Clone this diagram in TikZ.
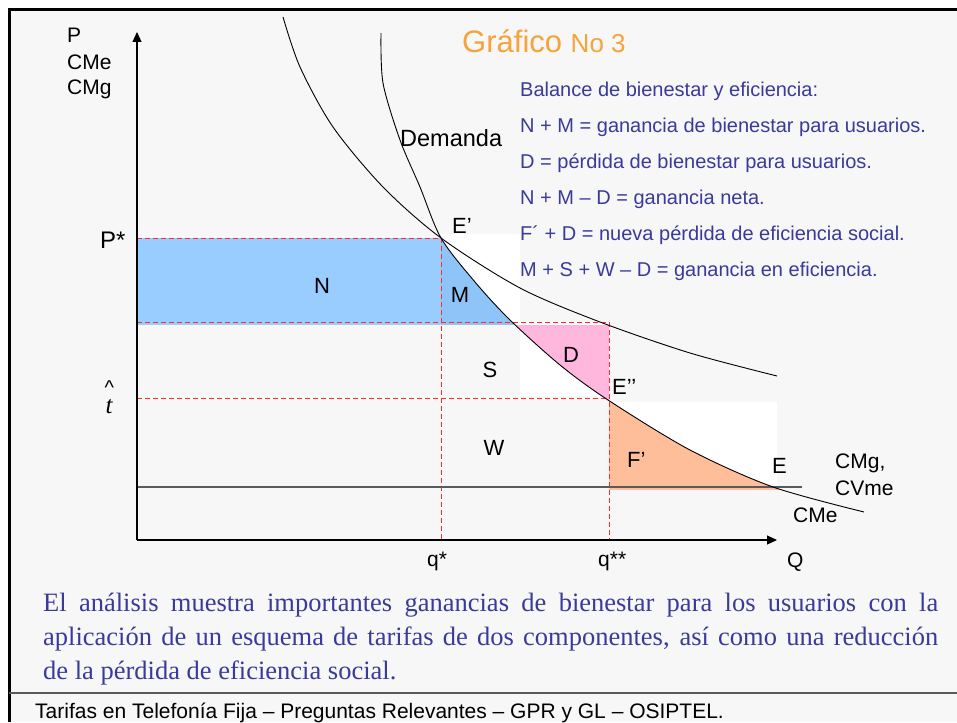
\documentclass[tikz,border=0pt]{standalone}
\usepackage{fontspec}
\setmainfont{Liberation Sans}
\newfontfamily\seriffont{Liberation Serif}
\usetikzlibrary{arrows.meta}
\definecolor{bg}{HTML}{F7F7F7}
\definecolor{nblue}{HTML}{99CCFF}
\definecolor{mblue}{HTML}{8EC4F8}
\definecolor{dpink}{HTML}{FFB7DE}
\definecolor{forange}{HTML}{FFBE9A}
\definecolor{titleorange}{HTML}{F6A33C}
\definecolor{navy}{HTML}{3A3A9A}
\definecolor{dashred}{HTML}{FF2A2A}
\definecolor{cmggray}{HTML}{5A5A5A}
\tikzset{
  lbl/.style={font=\fontsize{21}{25}\selectfont, inner sep=0pt, text=black},
  lst/.style={font=\fontsize{20}{24}\selectfont, text=navy, inner sep=0pt, anchor=base west},
  para/.style={font=\seriffont\fontsize{26.5}{30}\selectfont, text=navy, inner sep=0pt, anchor=base west},
  guide/.style={dashred, dash pattern=on 5pt off 3pt, line width=1pt},
  curve/.style={black, line width=0.9pt},
  axis/.style={black, line width=1.1pt, -{Triangle[length=10pt,width=9pt]}},
}
\begin{document}
\begin{tikzpicture}[x=1pt,y=-1pt]
\useasboundingbox (0,0) rectangle (957,722);
\fill[white] (0,0) rectangle (957,722);
\fill[bg] (9,10) rectangle (957,722);
% white patches
\fill[white] (441,234) rectangle (520,325);
\fill[white] (520,323) rectangle (609,396);
\fill[white] (609,402) rectangle (777,490);
% N
\fill[nblue] (137,238) rectangle (441,325);
% M and F'
\begin{scope}
\clip plot[smooth] coordinates {(381,33) (383,83) (400,140) (420,187) (441,238) (475,282) (510,320) (560,365) (608,400) (690,450) (773,487) (864,512)} -- (864,722) -- (0,722) -- (0,33) -- cycle;
\fill[mblue] (441,238) rectangle (540,325);
\fill[forange] (609,400) rectangle (800,490);
\end{scope}
% D
\begin{scope}
\clip plot[smooth] coordinates {(381,33) (383,83) (400,140) (420,187) (441,238) (475,282) (510,320) (560,365) (608,400) (690,450) (773,487) (864,512)} -- (957,512) -- (957,0) -- (381,0) -- cycle;
\fill[dpink] (500,325) rectangle (609,400);
\end{scope}
% coordinates
\coordinate (O) at (137,540);
\coordinate (Ytop) at (137,32);
\coordinate (Xend) at (777,540);
\coordinate (Pstar) at (137,238);
\coordinate (Ep) at (441,238);
\coordinate (qs) at (441,540);
\coordinate (h1a) at (137,322);
\coordinate (h1b) at (609,322);
\coordinate (tha) at (137,398);
\coordinate (thb) at (609,398);
\coordinate (qss) at (609,540);
\coordinate (cmga) at (137,487);
\coordinate (cmgb) at (802,487);
% guides
\draw[guide] (Pstar) -- (Ep);
\draw[guide] (Ep) -- (qs);
\draw[guide] (h1a) -- (h1b);
\draw[guide] (tha) -- (thb);
\draw[guide] (h1b) -- (qss);
% CMg line
\draw[cmggray, line width=1.5pt] (cmga) -- (cmgb);
% curves
\draw[curve] plot[smooth] coordinates {(283,17) (300,67) (333,127) (383,187) (441,238) (520,288) (600,322) (690,353) (777,376)};
\draw[curve] plot[smooth] coordinates {(381,33) (383,83) (400,140) (420,187) (441,238) (475,282) (510,320) (560,365) (608,400) (690,450) (773,487) (864,512)};
% axes
\draw[axis] (O) -- (Ytop);
\draw[axis] (O) -- (Xend);
% frame
\draw[black, line width=3pt] (9,722) -- (9,10) -- (957,10);
\draw[cmggray, line width=1.5pt] (9,693) -- (957,693);
% axis labels
\node[lbl, anchor=base west] (lP) at (67,43) {P};
\node[lbl, anchor=base west] (lCMe) at (67,70) {CMe};
\node[lbl, anchor=base west] (lCMg) at (67,95) {CMg};
\node[lbl, anchor=base west, font=\fontsize{24}{28}\selectfont] (lPs) at (100,248) {P*};
\node[lbl, anchor=base] (lthat) at (109,413) {\rlap{\hspace{-0.8pt}\raisebox{19pt}{\fontsize{20}{20}\selectfont\textasciicircum}}{\seriffont\itshape\fontsize{25}{28}\selectfont t}};
\node[lbl, anchor=base west] (lqs) at (427,566) {q*};
\node[lbl, anchor=base west] (lqss) at (598,566) {q**};
\node[lbl, anchor=base west] (lQ) at (787,567) {Q};
% region labels
\node[lbl, anchor=base, font=\fontsize{22}{26}\selectfont] (lN) at (322,293) {N};
\node[lbl, anchor=base, font=\fontsize{22}{26}\selectfont] (lM) at (460,302) {M};
\node[lbl, anchor=base, font=\fontsize{22}{26}\selectfont] (lS) at (490,377) {S};
\node[lbl, anchor=base, font=\fontsize{22}{26}\selectfont] (lD) at (571,362) {D};
\node[lbl, anchor=base, font=\fontsize{22}{26}\selectfont] (lW) at (494,455) {W};
\node[lbl, anchor=base west, font=\fontsize{22}{26}\selectfont] (lF) at (627,467) {F’};
\node[lbl, anchor=base west, font=\fontsize{22}{26}\selectfont] (lEp) at (452,233) {E’};
\node[lbl, anchor=base west, font=\fontsize{22}{26}\selectfont] (lEpp) at (612,394) {E’’};
\node[lbl, anchor=base west, font=\fontsize{22}{26}\selectfont] (lE) at (772,473) {E};
\node[lbl, anchor=base west] (lCMg2) at (835,468) {CMg,};
\node[lbl, anchor=base west] (lCVme) at (835,495) {CVme};
\node[lbl, anchor=base west] (lCMe2) at (793,522) {CMe};
\node[lbl, anchor=base west, font=\fontsize{23.5}{28}\selectfont] (lDem) at (400,147) {Demanda};
% title
\node[inner sep=0pt, anchor=base west, text=titleorange] (title) at (462,53) {\fontsize{31}{34}\selectfont Gráfico \fontsize{26}{30}\selectfont No 3};
% list
\node[lst] (b0) at (520,97) {Balance de bienestar y eficiencia:};
\node[lst] (b1) at (520,133) {N + M = ganancia de bienestar para usuarios.};
\node[lst] (b2) at (520,168) {D = pérdida de bienestar para usuarios.};
\node[lst] (b3) at (520,204) {N + M – D = ganancia neta.};
\node[lst] (b4) at (520,240) {F´ + D = nueva pérdida de eficiencia social.};
\node[lst] (b5) at (520,276) {M + S + W – D = ganancia en eficiencia.};
% paragraph
\node[para] (p1) at (43,611) {\makebox[895pt][s]{El análisis muestra importantes ganancias de bienestar para los usuarios con la}};
\node[para] (p2) at (43,645) {\makebox[895pt][s]{aplicación de un esquema de tarifas de dos componentes, así como una reducción}};
\node[para] (p3) at (43,679) {de la pérdida de eficiencia social.};
% footer
\node[lbl, anchor=base west] (foot) at (35,718) {Tarifas en Telefonía Fija – Preguntas Relevantes – GPR y GL – OSIPTEL.};
\end{tikzpicture}
\end{document}
